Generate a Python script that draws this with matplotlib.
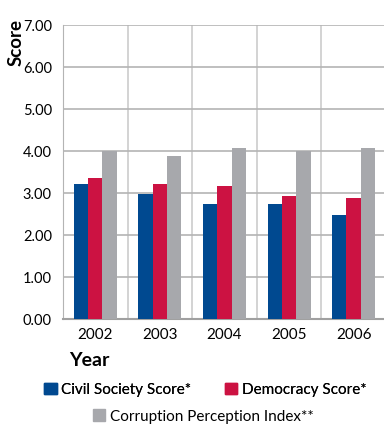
import numpy as np
import matplotlib.pyplot as plt
from matplotlib.patches import Patch

plt.rcParams['font.family'] = ['Lato', 'DejaVu Sans']

years = ['2002', '2003', '2004', '2005', '2006']
civil_society = [3.22, 2.98, 2.75, 2.75, 2.48]
democracy = [3.36, 3.22, 3.17, 2.93, 2.89]
corruption = [4.00, 3.89, 4.08, 4.00, 4.08]
series_names = ['Civil Society Score*', 'Democracy Score*', 'Corruption Perception Index**']
colors = ['#004990', '#cc1242', '#a7a8ac']

fig = plt.figure(figsize=(3.84, 4.25), dpi=100)
ax = fig.add_axes([0.164, 0.2487, 0.841, 0.692])

x = np.arange(len(years))
w = 0.222
for i, (vals, col) in enumerate(zip([civil_society, democracy, corruption], colors)):
    ax.bar(x + (i - 1) * w, vals, w, color=col, zorder=3)

ax.set_xlim(-0.5, len(years) - 0.5)
ax.set_ylim(0, 7)
ax.set_yticks(np.arange(0, 7.01, 1))
ax.set_yticklabels(['%.2f' % v for v in np.arange(0, 7.01, 1)], fontsize=10.5)
ax.set_xticks(x)
ax.set_xticklabels(years, fontsize=11)
ax.tick_params(length=0, pad=6)
ax.tick_params(axis='y', pad=8)

# horizontal grid plus separators between the years
ax.grid(axis='y', color='#b4b4b4', lw=1.2, zorder=0)
for b in np.arange(0.5, len(years) - 0.5, 1):
    ax.axvline(b, color='#cccccc', lw=1.2, zorder=0)

for s in ['top', 'right']:
    ax.spines[s].set_visible(False)
ax.spines['left'].set_color('#b4b4b4')
ax.spines['bottom'].set_color('#a0a0a0')
ax.spines['bottom'].set_linewidth(1.5)

fig.text(0.043, 0.955, 'Score', rotation=90, ha='center', va='top',
         fontsize=13.5, fontweight='bold')
fig.text(0.18, 0.152, 'Year', ha='left', va='center',
         fontsize=14, fontweight='bold')

h = [Patch(color=c) for c in colors]
leg1 = fig.legend(h[:2], series_names[:2], loc='center', bbox_to_anchor=(0.535, 0.083),
                  ncol=2, frameon=False, fontsize=11, handlelength=0.8, handleheight=0.8,
                  handletextpad=0.3, columnspacing=2.2, borderpad=0)
fig.legend(h[2:], series_names[2:], loc='center', bbox_to_anchor=(0.53, 0.02),
           frameon=False, fontsize=11, handlelength=0.8, handleheight=0.8,
           handletextpad=0.3, borderpad=0)
fig.add_artist(leg1)

fig.savefig('out.png', dpi=100)
